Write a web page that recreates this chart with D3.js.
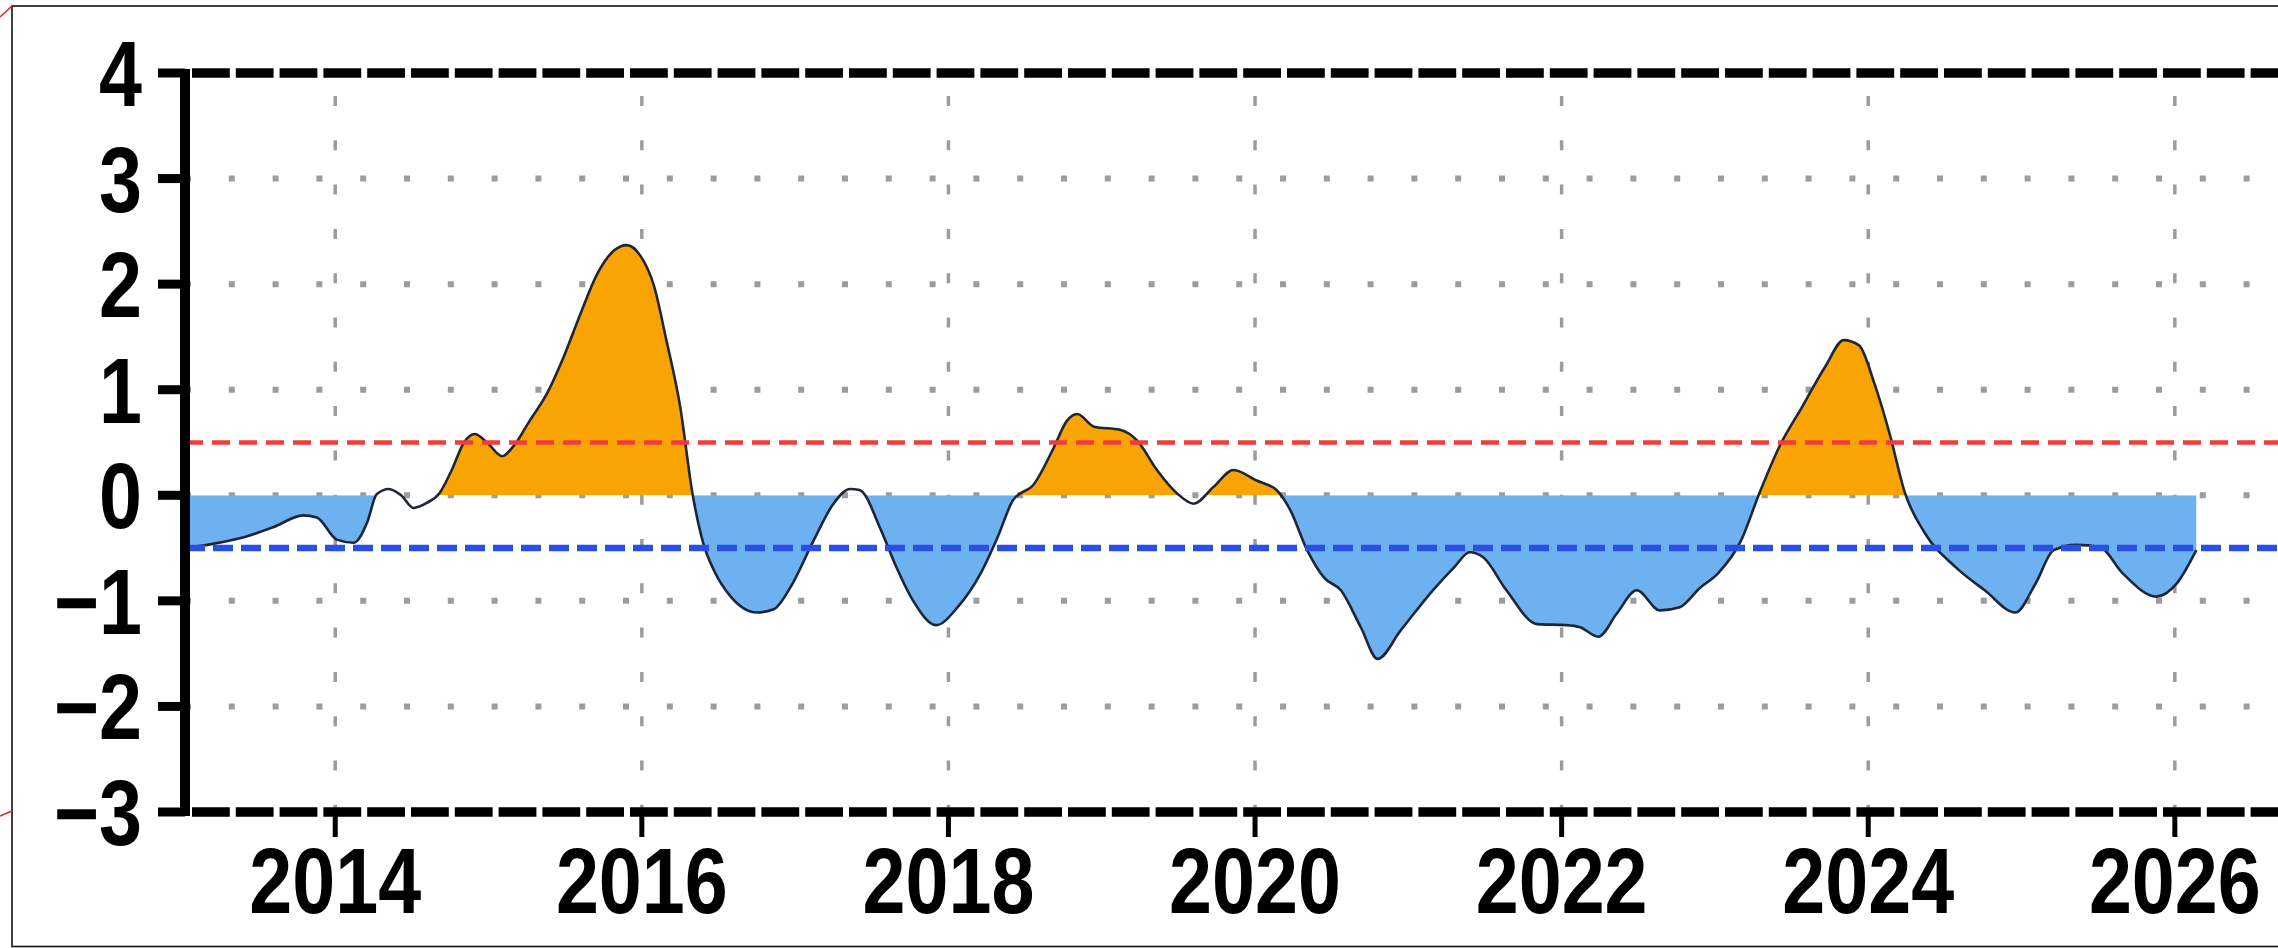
<!DOCTYPE html>
<html>
<head>
<meta charset="utf-8">
<script src="https://cdn.jsdelivr.net/npm/d3@7"></script>
<style>
  html, body { margin: 0; padding: 0; background: #fff; overflow: hidden; }
  svg { display: block; }
</style>
</head>
<body>
<svg id="chart" width="2278" height="948"></svg>
<script>
// Index time series (decimal years) and its values
const years = [
  2013.02, 2013.20, 2013.42, 2013.60, 2013.79, 2013.88, 2014.01, 2014.12, 2014.21, 2014.27,
  2014.35, 2014.43, 2014.51, 2014.60, 2014.68, 2014.76, 2014.84, 2014.91, 2014.99, 2015.09,
  2015.16, 2015.27, 2015.38, 2015.49, 2015.60, 2015.71, 2015.82, 2015.90, 2015.99, 2016.08,
  2016.16, 2016.25, 2016.33, 2016.40, 2016.47, 2016.58, 2016.75, 2016.86, 2016.97, 2017.12,
  2017.25, 2017.36, 2017.42, 2017.56, 2017.66, 2017.77, 2017.92, 2018.06, 2018.21, 2018.32,
  2018.42, 2018.56, 2018.69, 2018.77, 2018.84, 2018.95, 2019.12, 2019.23, 2019.36, 2019.49,
  2019.60, 2019.73, 2019.86, 2020.01, 2020.14, 2020.23, 2020.34, 2020.45, 2020.56, 2020.69,
  2020.80, 2020.95, 2021.16, 2021.30, 2021.40, 2021.49, 2021.64, 2021.84, 2022.03, 2022.12,
  2022.24, 2022.36, 2022.49, 2022.64, 2022.77, 2022.90, 2023.02, 2023.17, 2023.29, 2023.42,
  2023.57, 2023.72, 2023.84, 2023.94, 2024.04, 2024.14, 2024.24, 2024.37, 2024.57, 2024.76,
  2024.96, 2025.09, 2025.21, 2025.36, 2025.51, 2025.66, 2025.88, 2026.01, 2026.14
];
const values = [
  -0.50, -0.46, -0.39, -0.30, -0.19, -0.21, -0.42, -0.45, -0.25, 0.01,
   0.06,  0.00, -0.12, -0.07,  0.02,  0.24,  0.50,  0.58,  0.50,  0.37,
   0.46,  0.71,  0.96,  1.31,  1.72,  2.10,  2.32,  2.37,  2.27,  1.98,
   1.47,  0.84,  0.02, -0.45, -0.71, -0.96, -1.11, -1.08, -0.87, -0.43,
  -0.08,  0.06,  0.05, -0.33, -0.68, -1.00, -1.23, -1.06, -0.74, -0.40,
  -0.05,  0.11,  0.46,  0.70,  0.77,  0.65,  0.62,  0.52,  0.24,  0.02,
  -0.08,  0.08,  0.24,  0.14,  0.05, -0.14, -0.52, -0.78, -0.90, -1.25,
  -1.55, -1.28, -0.90, -0.68, -0.54, -0.59, -0.90, -1.22, -1.23, -1.25,
  -1.34, -1.12, -0.90, -1.09, -1.06, -0.88, -0.74, -0.43,  0.02,  0.46,
   0.84,  1.22,  1.47,  1.42,  1.06,  0.58,  0.02, -0.36, -0.68, -0.90,
  -1.11, -0.84, -0.52, -0.47, -0.49, -0.74, -0.96, -0.84, -0.52
];

// Shaded episodes: warm (orange, above zero) and cool (blue, below zero)
const warmPeriods = [[2014.66, 2016.33], [2018.44, 2020.16], [2023.29, 2024.24]];
const coolPeriods = [[2013.00, 2014.26], [2016.33, 2018.44], [2020.16, 2023.29], [2024.24, 2026.20]];

// Threshold lines
const warmThreshold = 0.5;
const coolThreshold = -0.5;

// Axis ticks
const yTicks = [4, 3, 2, 1, 0, -1, -2, -3];
const gridValues = [3, 2, 1, 0, -1, -2];
const xTicks = [2014, 2016, 2018, 2020, 2022, 2024, 2026];

const W = 2278, H = 948;
const svg = d3.select('#chart');

const x = d3.scaleLinear().domain([2013.02, 2027]).range([185, 185 + 13.98 * 153.3]);
const y = d3.scaleLinear().domain([-3, 4]).range([812, 73]);

const series = years.map((t, i) => ({ t, v: values[i] }));
const plotLeft = x(2013.02), plotTop = y(4), plotBottom = y(-3);

// Outer frame
svg.append('rect')
  .attr('x', 12).attr('y', 6).attr('width', W).attr('height', H - 7.5)
  .attr('fill', 'none').attr('stroke', '#111').attr('stroke-width', 1.6);
svg.append('path').attr('d', 'M0,17L12,6').attr('stroke', '#e32222').attr('stroke-width', 1.6).attr('fill', 'none');
svg.append('path').attr('d', 'M0,816L12,811').attr('stroke', '#e32222').attr('stroke-width', 1.6).attr('fill', 'none');

// Dotted grid
const grid = svg.append('g').attr('fill', 'none').attr('stroke', '#9c9c9c');
grid.selectAll('line.h').data(gridValues).join('line')
  .attr('class', 'h')
  .attr('x1', plotLeft).attr('x2', W)
  .attr('y1', d => y(d)).attr('y2', d => y(d))
  .attr('stroke-width', 6)
  .attr('stroke-dasharray', '6 37.8');
grid.selectAll('line.v').data(xTicks).join('line')
  .attr('class', 'v')
  .attr('x1', d => x(d)).attr('x2', d => x(d))
  .attr('y1', plotTop).attr('y2', plotBottom)
  .attr('stroke-width', 3.5)
  .attr('stroke-dasharray', '10 34.3')
  .attr('stroke-dashoffset', -23);

// Clip regions for the episode shading
const defs = svg.append('defs');
const warmClip = defs.append('clipPath').attr('id', 'warm-clip');
warmClip.selectAll('rect').data(warmPeriods).join('rect')
  .attr('x', d => x(d[0])).attr('width', d => x(d[1]) - x(d[0]))
  .attr('y', 0).attr('height', y(0));
const coolClip = defs.append('clipPath').attr('id', 'cool-clip');
coolClip.selectAll('rect').data(coolPeriods).join('rect')
  .attr('x', d => x(d[0])).attr('width', d => x(d[1]) - x(d[0]))
  .attr('y', y(0)).attr('height', H - y(0));

const curve = d3.curveMonotoneX;
const area = d3.area().x(d => x(d.t)).y0(y(0)).y1(d => y(d.v)).curve(curve);
const line = d3.line().x(d => x(d.t)).y(d => y(d.v)).curve(curve);

svg.append('path').datum(series)
  .attr('d', area).attr('fill', '#F9A402').attr('clip-path', 'url(#warm-clip)');
svg.append('path').datum(series)
  .attr('d', area).attr('fill', '#6DB1F1').attr('clip-path', 'url(#cool-clip)');

// Index curve
svg.append('path').datum(series)
  .attr('d', line).attr('fill', 'none')
  .attr('stroke', '#1d2636').attr('stroke-width', 2.6).attr('stroke-linejoin', 'round');

// Threshold lines
svg.append('line')
  .attr('x1', plotLeft).attr('x2', W)
  .attr('y1', y(warmThreshold)).attr('y2', y(warmThreshold))
  .attr('stroke', '#ef3d3d').attr('stroke-width', 4.5).attr('stroke-dasharray', '18 9');
svg.append('line')
  .attr('x1', plotLeft).attr('x2', W)
  .attr('y1', y(coolThreshold)).attr('y2', y(coolThreshold))
  .attr('stroke', '#2b4fe6').attr('stroke-width', 6.5).attr('stroke-dasharray', '20 8');

// Axes
const axes = svg.append('g').attr('stroke', '#000').attr('fill', 'none');
axes.append('line')
  .attr('x1', plotLeft).attr('x2', plotLeft)
  .attr('y1', plotTop - 4).attr('y2', plotBottom + 4)
  .attr('stroke-width', 10);
[plotTop, plotBottom].forEach(py => {
  axes.append('line')
    .attr('x1', plotLeft + 7).attr('x2', W)
    .attr('y1', py).attr('y2', py)
    .attr('stroke-width', 9.5)
    .attr('stroke-dasharray', '37.8 6');
});
axes.selectAll('line.ytick').data(yTicks).join('line')
  .attr('class', 'ytick')
  .attr('x1', plotLeft - 27).attr('x2', plotLeft)
  .attr('y1', d => y(d)).attr('y2', d => y(d))
  .attr('stroke-width', 9);
axes.selectAll('line.xtick').data(xTicks).join('line')
  .attr('class', 'xtick')
  .attr('x1', d => x(d)).attr('x2', d => x(d))
  .attr('y1', plotBottom).attr('y2', plotBottom + 25)
  .attr('stroke-width', 5);

// Tick labels
const fontSize = 92, squeeze = 0.84;
const labelFont = '"Liberation Sans", Arial, Helvetica, sans-serif';
svg.append('g').selectAll('g').data(yTicks).join('g')
  .attr('transform', d => `translate(142,${y(d) + 33}) scale(${squeeze},1)`)
  .append('text')
  .attr('text-anchor', 'end')
  .attr('font-family', labelFont).attr('font-weight', 'bold').attr('font-size', fontSize)
  .attr('fill', '#000')
  .text(d => d < 0 ? '\u2212' + Math.abs(d) : String(d));
svg.append('g').selectAll('g').data(xTicks).join('g')
  .attr('transform', d => `translate(${x(d)},913) scale(${squeeze},1)`)
  .append('text')
  .attr('text-anchor', 'middle')
  .attr('font-family', labelFont).attr('font-weight', 'bold').attr('font-size', fontSize)
  .attr('fill', '#000')
  .text(d => String(d));
</script>
</body>
</html>
